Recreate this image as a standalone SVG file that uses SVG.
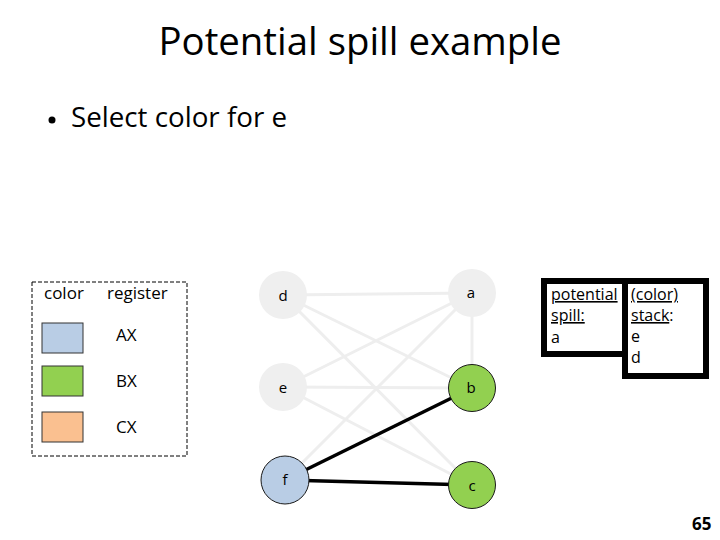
<svg xmlns="http://www.w3.org/2000/svg" width="720" height="540" viewBox="0 0 720 540">
<style>
text{font-family:"Open Sans","Liberation Sans",sans-serif;fill:#000}
.gray{stroke:#eeeeee;stroke-width:3;fill:none}
.blk{stroke:#000;stroke-width:3.5;fill:none}
.ng{fill:#efefef;stroke:none}
.nb{fill:#b9cde5;stroke:#1a1a1a;stroke-width:1}
.ngr{fill:#92d050;stroke:#1a1a1a;stroke-width:1}
.lbl{font-size:15px;text-anchor:middle}
.box{fill:#fff;stroke:#000;stroke-width:6}
.bt{font-size:16px}
.lg{font-size:17px}
.sw{stroke:#333;stroke-width:1}
</style>
<rect width="720" height="540" fill="#fff"/>
<text x="360" y="55" font-size="38.5" text-anchor="middle" textLength="403" lengthAdjust="spacingAndGlyphs">Potential spill example</text>
<circle cx="52" cy="120" r="3.5" fill="#000"/>
<text x="71" y="127" font-size="28" textLength="216" lengthAdjust="spacingAndGlyphs">Select color for e</text>

<g id="legend">
<rect x="32" y="282" width="155" height="174" fill="none" stroke="#000" stroke-width="1" stroke-dasharray="4,2"/>
<text class="lg" x="44" y="299">color</text>
<text class="lg" x="107" y="299">register</text>
<rect class="sw" x="42" y="323" width="41" height="30" fill="#b9cde5"/>
<text class="lg" x="116" y="341">AX</text>
<rect class="sw" x="42" y="366" width="41" height="30" fill="#92d050"/>
<text class="lg" x="116" y="387">BX</text>
<rect class="sw" x="42" y="412" width="41" height="30" fill="#fac090"/>
<text class="lg" x="116" y="433">CX</text>
</g>

<g id="connectors">
<line class="gray" x1="283" y1="295" x2="472" y2="293"/>
<line class="gray" x1="283" y1="295" x2="472" y2="388"/>
<line class="gray" x1="283" y1="295" x2="472" y2="485"/>
<line class="gray" x1="472" y1="293" x2="283" y2="387"/>
<line class="gray" x1="472" y1="293" x2="285" y2="480"/>
<line class="gray" x1="472" y1="293" x2="472" y2="388"/>
<line class="gray" x1="283" y1="387" x2="472" y2="388"/>
<line class="gray" x1="283" y1="387" x2="472" y2="485"/>
<line class="blk" x1="285" y1="480" x2="472" y2="388"/>
<line class="blk" x1="285" y1="480" x2="472" y2="485"/>
</g>

<g id="node-d"><circle class="ng" cx="283" cy="295" r="24"/><text class="lbl" x="283" y="301">d</text></g>
<g id="node-a"><circle class="ng" cx="472" cy="293" r="24"/><text class="lbl" x="471" y="298">a</text></g>
<g id="node-e"><circle class="ng" cx="283" cy="387" r="24"/><text class="lbl" x="283" y="393">e</text></g>
<g id="node-b"><circle class="ngr" cx="472" cy="388" r="23.5"/><text class="lbl" x="471" y="393">b</text></g>
<g id="node-f"><circle class="nb" cx="285" cy="480" r="24"/><text class="lbl" x="285" y="485">f</text></g>
<g id="node-c"><circle class="ngr" cx="472" cy="485" r="23.5"/><text class="lbl" x="472" y="491">c</text></g>

<g id="spill-box">
<rect class="box" x="544" y="281" width="82" height="73"/>
<text class="bt" x="551" y="300"><tspan text-decoration="underline">potential</tspan></text>
<text class="bt" x="551" y="321"><tspan text-decoration="underline">spill:</tspan></text>
<text class="bt" x="551" y="343">a</text>
</g>
<g id="stack-box">
<rect class="box" x="625" y="281" width="81" height="95"/>
<text class="bt" x="631" y="300"><tspan text-decoration="underline">(color)</tspan></text>
<text class="bt" x="631" y="321"><tspan text-decoration="underline">stack</tspan>:</text>
<text class="bt" x="631" y="342">e</text>
<text class="bt" x="631" y="363">d</text>
</g>

<text x="692" y="530" font-family="Liberation Sans, Arial, sans-serif" font-weight="bold" font-size="17">65</text>
</svg>
